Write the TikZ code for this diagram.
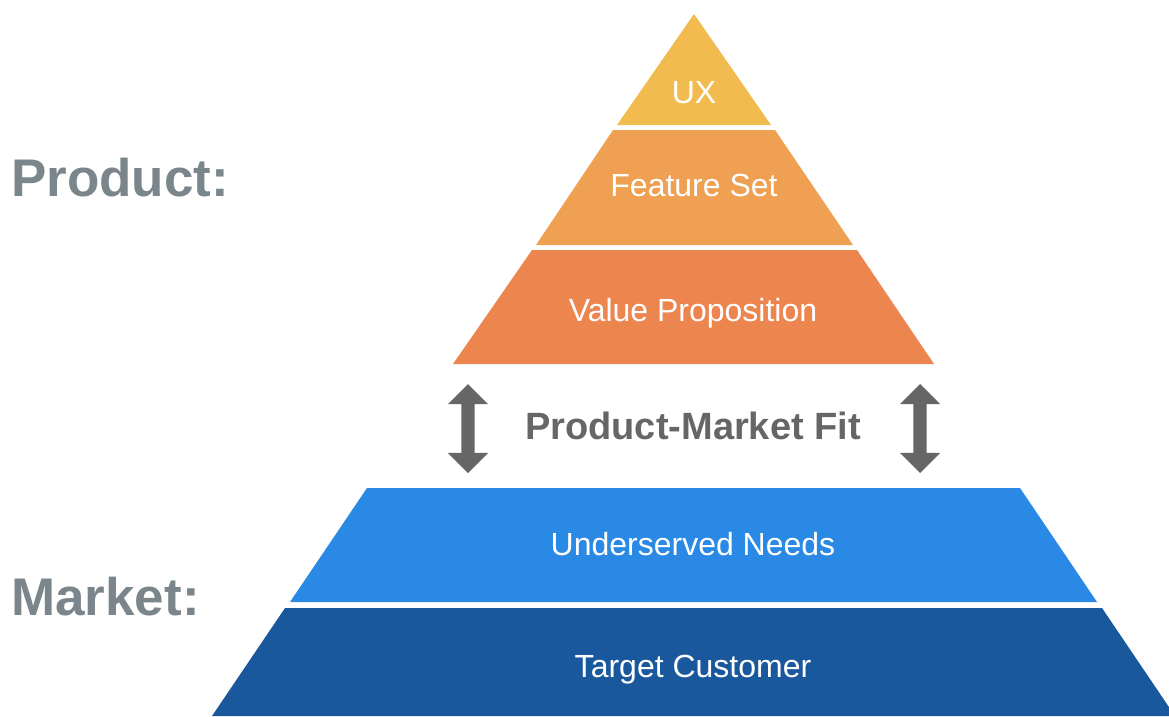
\documentclass[tikz,border=0pt]{standalone}
\usepackage{fontspec}
\setmainfont{Liberation Sans}
\usetikzlibrary{shapes.arrows}
\definecolor{cux}{HTML}{F1BB4F}
\definecolor{cfeat}{HTML}{EFA052}
\definecolor{cval}{HTML}{ED854F}
\definecolor{cneed}{HTML}{2A89E4}
\definecolor{ccust}{HTML}{1A589E}
\definecolor{clabel}{HTML}{7A868B}
\definecolor{cfit}{HTML}{666666}
\begin{document}
\begin{tikzpicture}[x=1pt,y=-1pt,
  layertext/.style={text=white,font=\fontsize{32}{36}\selectfont,inner sep=0pt,anchor=base},
  sidelabel/.style={text=clabel,font=\fontsize{53}{60}\selectfont\bfseries,inner sep=0pt,anchor=base west},
  fitarrow/.style={double arrow,fill=cfit,draw=none,rotate=90,minimum height=89pt,
     minimum width=40pt,inner sep=6.5pt,double arrow head extend=13.5pt,double arrow tip angle=90}]
\useasboundingbox[fill=white] (0,0) rectangle (1169,716);
\begin{scope}
\clip (0,0) rectangle (1169,716);
% product pyramid
\fill[cux]   (694,14) -- (771,125) -- (617,125) -- cycle;
\fill[cfeat] (613,130) -- (775,130) -- (853,245) -- (536,245) -- cycle;
\fill[cval]  (532,250) -- (857,250) -- (934,364) -- (453,364) -- cycle;
% market pyramid
\fill[cneed] (367,488) -- (1020,488) -- (1097,602) -- (290,602) -- cycle;
\fill[ccust] (285,608) -- (1102,608) -- (1175,716) -- (212,716) -- cycle;
\end{scope}
\node[layertext] (ux) at (694,103) {UX};
\node[layertext] (feat) at (694,196) {Feature Set};
\node[layertext] (val) at (693,321) {Value Proposition};
\node[layertext] (need) at (693,555) {Underserved Needs};
\node[layertext] (cust) at (693,677) {Target Customer};
\node[sidelabel] (prod) at (11,196) {Product:};
\node[sidelabel] (mkt) at (11,615) {Market:};
\node[text=cfit,font=\fontsize{38}{44}\selectfont\bfseries,inner sep=0pt,anchor=base] (fit) at (693,439) {Product-Market Fit};
\node[fitarrow] (la) at (468,428.5) {};
\node[fitarrow] (ra) at (920,428.5) {};
\end{tikzpicture}
\end{document}
